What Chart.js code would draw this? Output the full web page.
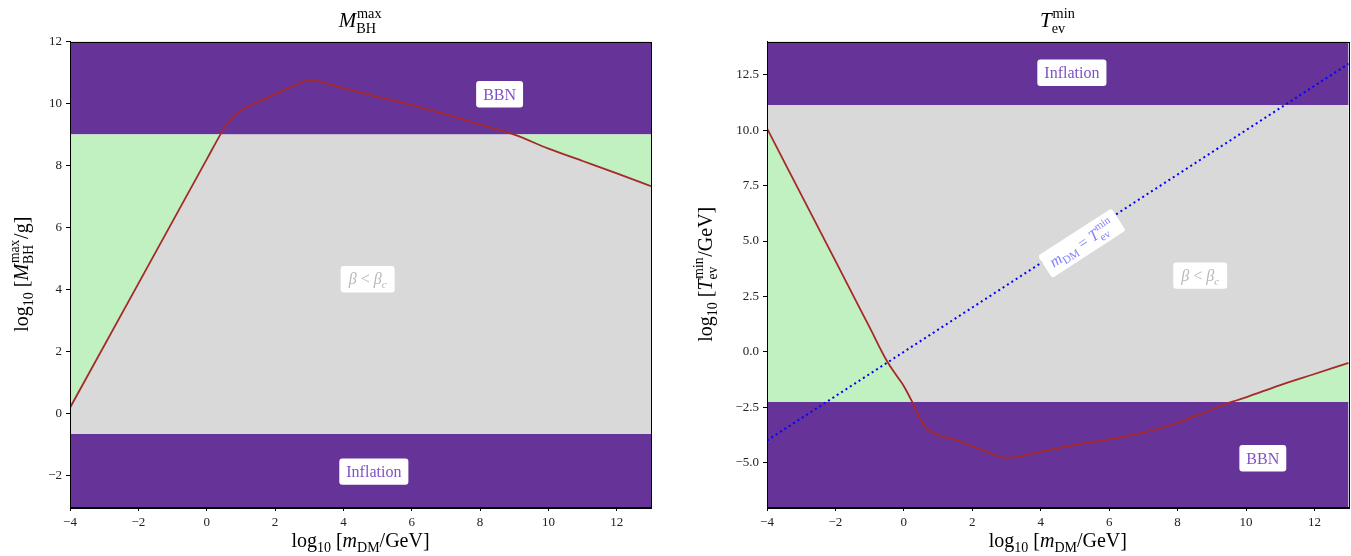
<!DOCTYPE html>
<html>
<head>
<meta charset="utf-8">
<script src="https://cdn.jsdelivr.net/npm/chart.js@4.4.1/dist/chart.umd.min.js"></script>
<style>
  html, body { margin: 0; padding: 0; background: #fff; }
  #wrap { position: relative; width: 1351px; height: 556px; }
  .panel { position: absolute; top: 0; height: 556px; }
</style>
</head>
<body>
<div id="wrap">
  <div class="panel" style="left:0;width:675px"><canvas id="massChart"></canvas></div>
  <div class="panel" style="left:675px;width:676px"><canvas id="tempChart"></canvas></div>
</div>
<script>
// x range shared by both panels (log10 m_DM / GeV)
const xMin = -4;
const xMax = 13;
const xTicks = [-4, -2, 0, 2, 4, 6, 8, 10, 12];

// left panel: log10 M_BH^max / g
const massYMin = -3;
const massYMax = 12;
const massYTicks = [-2, 0, 2, 4, 6, 8, 10, 12];
const massInflationCut = -0.65;
const massBbnCut = 9;
const massCurveX = [-4, -2, 0, 0.4, 0.6, 0.8, 1, 1.5, 2, 2.5, 3, 4, 5, 6, 7, 8, 9, 10, 11, 12, 13];
const massCurveY = [0.2, 4.2, 8.2, 9.0, 9.35, 9.6, 9.78, 10.05, 10.3, 10.55, 10.75, 10.5, 10.22, 9.95, 9.65, 9.33, 9.0, 8.55, 8.15, 7.75, 7.34];

// right panel: log10 T_ev^min / GeV
const tempYMin = -7;
const tempYMax = 14;
const tempYTicks = [-5, -2.5, 0, 2.5, 5, 7.5, 10, 12.5];
const tempBbnCut = -2.25;
const tempInflationCut = 11.13;
const tempCurveX = [-4, -2, -1, -0.5, -0.2, 0, 0.24, 0.5, 0.7, 1, 1.5, 2, 2.5, 3, 4, 5, 6, 7, 8, 9, 9.6, 10, 11, 12, 13];
const tempCurveY = [10.08, 4.1, 1.1, -0.4, -1.1, -1.55, -2.25, -3.1, -3.5, -3.75, -3.97, -4.25, -4.55, -4.78, -4.5, -4.2, -3.95, -3.65, -3.2, -2.6, -2.25, -2.05, -1.5, -1.0, -0.5];
const diagonalX = [-4, 13];

// colours
const PURPLE = '#663399';
const GREY = '#d9d9d9';
const GREEN = '#c1f0c1';
const CURVE = '#a52a2a';
const LABEL_PURPLE = '#7f52c4';

const FONT = '"Liberation Serif", "DejaVu Serif", serif';

function font(size, italic) {
  return (italic ? 'italic ' : '') + size + 'px ' + FONT;
}

// tiny rich text: parts are {t, i, sub, sup} or {stack: [sub, sup]}
function partWidth(ctx, p, size) {
  if (p.stack) {
    ctx.font = font(size * 0.68);
    return Math.max(ctx.measureText(p.stack[0]).width, ctx.measureText(p.stack[1]).width) + size * 0.08;
  }
  ctx.font = font((p.sub || p.sup) ? size * 0.7 : size, p.i);
  return ctx.measureText(p.t).width;
}

function richWidth(ctx, parts, size) {
  return parts.reduce((w, p) => w + partWidth(ctx, p, size), 0);
}

function drawRich(ctx, parts, x, y, size, color) {
  let cx = x - richWidth(ctx, parts, size) / 2;
  ctx.fillStyle = color;
  ctx.textAlign = 'left';
  ctx.textBaseline = 'alphabetic';
  parts.forEach(p => {
    const w = partWidth(ctx, p, size);
    if (p.stack) {
      ctx.font = font(size * 0.68);
      ctx.fillText(p.stack[1], cx + size * 0.04, y - size * 0.45);
      ctx.fillText(p.stack[0], cx, y + size * 0.27);
    } else {
      ctx.font = font((p.sub || p.sup) ? size * 0.7 : size, p.i);
      ctx.fillText(p.t, cx, y + (p.sub ? size * 0.24 : p.sup ? -size * 0.4 : 0));
    }
    cx += w;
  });
}

function roundRect(ctx, x, y, w, h, r) {
  ctx.beginPath();
  ctx.moveTo(x + r, y);
  ctx.arcTo(x + w, y, x + w, y + h, r);
  ctx.arcTo(x + w, y + h, x, y + h, r);
  ctx.arcTo(x, y + h, x, y, r);
  ctx.arcTo(x, y, x + w, y, r);
  ctx.closePath();
}

const xLabelParts = [
  { t: 'log' }, { t: '10', sub: true }, { t: ' [' }, { t: 'm', i: true }, { t: 'DM', sub: true }, { t: '/GeV]' }
];
const betaParts = [{ t: 'β', i: true }, { t: ' < ' }, { t: 'β', i: true }, { t: 'c', i: true, sub: true }];

/**
 * 标注插件: 标题, 轴标签, 白底文字框
 */
function makeDecor(cfg) {
  return {
    id: 'decor',
    afterDatasetsDraw(chart) {
      const { ctx, scales: { x, y } } = chart;
      cfg.boxes.forEach(b => {
        const px = x.getPixelForValue(b.x);
        const py = y.getPixelForValue(b.y);
        let angle = 0;
        if (b.along) {
          angle = Math.atan2(
            y.getPixelForValue(b.along[1]) - y.getPixelForValue(b.along[0]),
            x.getPixelForValue(b.along[1]) - x.getPixelForValue(b.along[0])
          );
        }
        ctx.save();
        ctx.translate(px, py);
        ctx.rotate(angle);
        const w = richWidth(ctx, b.parts, b.size) + 2 * b.pad;
        const h = b.size * 1.65;
        roundRect(ctx, -w / 2, -h / 2, w, h, 3);
        ctx.fillStyle = '#fff';
        ctx.fill();
        drawRich(ctx, b.parts, 0, b.size * 0.33 + (b.shift || 0), b.size, b.color);
        ctx.restore();
      });
    },
    afterDraw(chart) {
      const { ctx, chartArea: a } = chart;
      ctx.save();
      ctx.strokeStyle = '#000';
      ctx.lineWidth = 1;
      ctx.strokeRect(Math.round(a.left) + 0.5, Math.round(a.top) + 0.5, Math.round(a.right - a.left), Math.round(a.bottom - a.top));
      const cx = (a.left + a.right) / 2;
      drawRich(ctx, cfg.title, cx, 27, 21, '#000');
      drawRich(ctx, xLabelParts, cx, 547, 20, '#000');
      ctx.translate(cfg.yLabelX, (a.top + a.bottom) / 2);
      ctx.rotate(-Math.PI / 2);
      drawRich(ctx, cfg.yLabel, 0, 0, 20, '#000');
      ctx.restore();
    }
  };
}

function flat(value, extra) {
  return Object.assign({
    data: [{ x: xMin, y: value }, { x: xMax, y: value }],
    borderWidth: 0,
    pointRadius: 0
  }, extra);
}

function points(xs, ys) {
  return xs.map((v, i) => ({ x: v, y: ys[i] }));
}

function tickOpts(values, fmt, width, isX) {
  return {
    type: 'linear',
    min: isX ? xMin : undefined,
    max: isX ? xMax : undefined,
    afterBuildTicks: (scale) => { scale.ticks = values.map(v => ({ value: v })); },
    afterFit: (scale) => { if (isX) scale.height = width; else scale.width = width; },
    grid: { drawOnChartArea: false, drawTicks: true, tickLength: 4, color: '#000' },
    border: { display: true, color: '#000', width: 1 },
    ticks: {
      color: '#222',
      padding: 4,
      maxRotation: 0,
      autoSkip: false,
      font: { family: FONT, size: 13 },
      callback: (v) => fmt(v).replace('-', '\u2212')
    }
  };
}

function makeChart(canvasId, datasets, yMin, yMax, yTicks, yFmt, yAxisWidth, padRight, decor) {
  const yScale = tickOpts(yTicks, yFmt, yAxisWidth, false);
  yScale.min = yMin;
  yScale.max = yMax;
  return new Chart(document.getElementById(canvasId), {
    type: 'line',
    data: { datasets },
    options: {
      responsive: true,
      maintainAspectRatio: false,
      animation: false,
      layout: { padding: { top: 41.5, right: padRight, left: 0, bottom: 0 } },
      scales: {
        x: tickOpts(xTicks, v => String(v), 49, true),
        y: yScale
      },
      plugins: { legend: { display: false }, tooltip: { enabled: false } }
    },
    plugins: [makeDecor(decor)]
  });
}

// 左图
const massPts = points(massCurveX, massCurveY);
makeChart('massChart', [
  { data: massPts, borderColor: CURVE, borderWidth: 1.8, pointRadius: 0, fill: false, order: 0,
    cubicInterpolationMode: 'monotone' },
  { data: massPts.map(p => ({ x: p.x, y: Math.min(p.y, massBbnCut) })), borderWidth: 0, pointRadius: 0,
    backgroundColor: GREEN, fill: { value: massBbnCut }, order: 1 },
  flat(massBbnCut, { backgroundColor: GREY, fill: { value: massInflationCut }, order: 2 }),
  flat(massBbnCut, { backgroundColor: PURPLE, fill: 'end', order: 3 }),
  flat(massInflationCut, { backgroundColor: PURPLE, fill: 'start', order: 3 })
], massYMin, massYMax, massYTicks, v => String(v), 70, 24, {
  title: [{ t: 'M', i: true }, { stack: ['BH', 'max'] }],
  yLabel: [{ t: 'log' }, { t: '10', sub: true }, { t: ' [' }, { t: 'M', i: true }, { stack: ['BH', 'max'] }, { t: '/g]' }],
  yLabelX: 28,
  boxes: [
    { parts: [{ t: 'BBN' }], x: 8.57, y: 10.3, size: 16, pad: 7, color: LABEL_PURPLE },
    { parts: [{ t: 'Inflation' }], x: 4.89, y: -1.86, size: 16, pad: 7, color: LABEL_PURPLE },
    { parts: betaParts, x: 4.71, y: 4.34, size: 16, pad: 8, color: '#b8b8b8' }
  ]
});

// 右图
const tempPts = points(tempCurveX, tempCurveY);
makeChart('tempChart', [
  { data: tempPts, borderColor: CURVE, borderWidth: 1.8, pointRadius: 0, fill: false, order: 0,
    cubicInterpolationMode: 'monotone' },
  { data: points(diagonalX, diagonalX), borderColor: '#0000ff', borderWidth: 2, borderDash: [2, 3.2],
    pointRadius: 0, fill: false, order: 0 },
  { data: tempPts.map(p => ({ x: p.x, y: Math.max(p.y, tempBbnCut) })), borderWidth: 0, pointRadius: 0,
    backgroundColor: GREEN, fill: { value: tempBbnCut }, order: 1, cubicInterpolationMode: 'monotone' },
  flat(tempInflationCut, { backgroundColor: GREY, fill: { value: tempBbnCut }, order: 2 }),
  flat(tempInflationCut, { backgroundColor: PURPLE, fill: 'end', order: 3 }),
  flat(tempBbnCut, { backgroundColor: PURPLE, fill: 'start', order: 3 })
], tempYMin, tempYMax, tempYTicks, v => v.toFixed(1), 92, 2.3, {
  title: [{ t: 'T', i: true }, { stack: ['ev', 'min'] }],
  yLabel: [{ t: 'log' }, { t: '10', sub: true }, { t: ' [' }, { t: 'T', i: true }, { stack: ['ev', 'min'] }, { t: '/GeV]' }],
  yLabelX: 37,
  boxes: [
    { parts: [{ t: 'Inflation' }], x: 4.91, y: 12.59, size: 16, pad: 7, color: LABEL_PURPLE },
    { parts: [{ t: 'BBN' }], x: 10.49, y: -4.8, size: 16, pad: 7, color: LABEL_PURPLE },
    { parts: betaParts, x: 8.66, y: 3.44, size: 16, pad: 8, color: '#b8b8b8' },
    { parts: [{ t: 'm', i: true }, { t: 'DM', sub: true }, { t: ' = ' }, { t: 'T', i: true }, { stack: ['ev', 'min'] }],
      x: 5.2, y: 4.9, size: 16, pad: 7, color: '#8080ff', along: [0, 1] }
  ]
});
</script>
</body>
</html>
